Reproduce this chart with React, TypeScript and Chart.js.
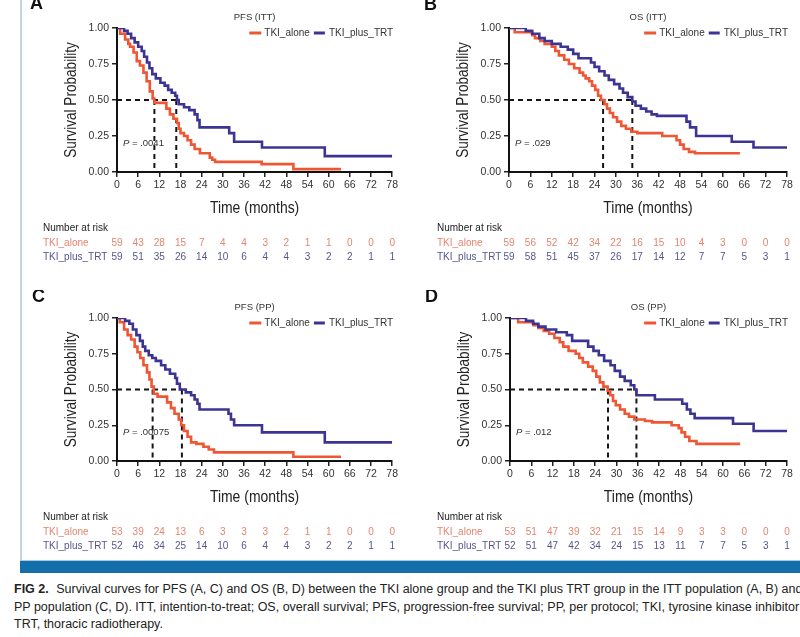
import React, { useEffect, useRef } from "react";
import { Chart, registerables } from "chart.js";
Chart.register(...registerables);

// ---------- data ----------
const xTicks = [0, 6, 12, 18, 24, 30, 36, 42, 48, 54, 60, 66, 72, 78];
const yTicks = [0, 0.25, 0.5, 0.75, 1];
const groupLabels = ["TKI_alone", "TKI_plus_TRT"];
const panelLetters = ["A", "B", "C", "D"];
const panelTitles = ["PFS (ITT)", "OS (ITT)", "PFS (PP)", "OS (PP)"];
const pValues = [".0041", ".029", ".00075", ".012"];

// [time (months), survival probability]
const pfsIttAlone = [[0,1],[0.9,0.96],[2.3,0.92],[3.2,0.89],[3.7,0.87],[4.7,0.83],[5.6,0.77],[6.5,0.74],[7.5,0.69],[8.4,0.63],[9.3,0.56],[10.1,0.51],[10.6,0.48],[14,0.44],[15,0.4],[16,0.37],[17,0.34],[17.5,0.3],[18,0.27],[19,0.25],[20,0.22],[21,0.19],[22,0.16],[23.5,0.13],[26.3,0.1],[27,0.085],[27.8,0.07],[41,0.055],[50,0.02],[63.5,0.02]];
const pfsIttPlus = [[0,1],[2,0.98],[3,0.96],[4,0.93],[5,0.9],[6,0.87],[7,0.84],[7.7,0.8],[8.5,0.76],[9.2,0.72],[10,0.68],[11,0.65],[12.3,0.62],[13.5,0.6],[14.5,0.57],[15.5,0.55],[16.5,0.53],[17,0.5],[17.5,0.47],[19,0.45],[20.5,0.43],[22,0.4],[22.8,0.36],[23.4,0.31],[31.8,0.27],[33.2,0.21],[41.1,0.17],[58.9,0.11],[78,0.11]];
const osIttAlone = [[0,1],[1.6,0.97],[6.5,0.95],[7.3,0.93],[8.8,0.91],[10,0.89],[12,0.87],[13,0.84],[14,0.81],[15.5,0.78],[16.8,0.75],[18.3,0.72],[19.8,0.69],[20.8,0.67],[21.5,0.65],[22.5,0.63],[23.3,0.6],[24.2,0.57],[25,0.53],[25.8,0.5],[26.8,0.47],[27.5,0.44],[28.3,0.41],[29.2,0.38],[30.3,0.35],[31.5,0.32],[32.8,0.3],[34.3,0.28],[36,0.27],[43,0.25],[47,0.22],[48,0.19],[49,0.16],[50.5,0.14],[52.2,0.13],[64.8,0.13]];
const osIttPlus = [[0,1],[4.7,0.98],[6.5,0.96],[8.5,0.93],[10,0.91],[12,0.89],[14.5,0.87],[16.5,0.85],[18,0.82],[19.5,0.79],[23,0.76],[24,0.73],[25.3,0.7],[26.8,0.67],[28,0.64],[29.5,0.61],[31,0.58],[32,0.55],[33.3,0.52],[34.6,0.49],[35.5,0.46],[37,0.44],[38.5,0.42],[40,0.4],[41.5,0.39],[49.8,0.35],[50.8,0.31],[52.5,0.25],[62.5,0.21],[68.6,0.17],[78,0.17]];
const pfsPpAlone = [[0,1],[0.8,0.97],[2,0.92],[3,0.88],[4,0.85],[5,0.8],[5.8,0.76],[6.6,0.72],[7.5,0.67],[8.5,0.62],[9.2,0.57],[9.8,0.52],[10.4,0.47],[11.5,0.45],[14.2,0.41],[15.3,0.37],[16.3,0.33],[17.5,0.29],[18.2,0.25],[19,0.21],[20,0.17],[21,0.13],[22.5,0.12],[24.5,0.1],[26,0.08],[27.5,0.06],[50,0.03],[63.5,0.03]];
const pfsPpPlus = [[0,1],[2.3,0.98],[3.5,0.96],[4.5,0.92],[5.5,0.88],[6.5,0.84],[7.3,0.8],[8,0.77],[9,0.74],[10,0.72],[11,0.7],[12.5,0.67],[13.7,0.64],[15,0.61],[16.5,0.58],[17,0.54],[17.8,0.5],[19.5,0.48],[21,0.46],[22,0.43],[22.8,0.4],[23.4,0.36],[31.6,0.33],[32.3,0.29],[33.2,0.25],[41.1,0.2],[58.9,0.13],[78,0.13]];
const osPpAlone = [[0,1],[2.3,0.97],[6.6,0.95],[8,0.93],[9.5,0.91],[11,0.89],[12.5,0.86],[14,0.83],[15,0.8],[16.5,0.77],[18.5,0.75],[19.5,0.72],[20.5,0.69],[22,0.66],[23.3,0.63],[24.3,0.59],[25.3,0.55],[26.3,0.52],[27.5,0.49],[28.2,0.46],[29,0.42],[29.8,0.39],[31,0.36],[32.3,0.33],[33.5,0.31],[35,0.29],[38,0.28],[40,0.27],[45.5,0.25],[47.5,0.23],[48.3,0.2],[49.3,0.17],[50.5,0.14],[52.5,0.12],[64.8,0.12]];
const osPpPlus = [[0,1],[4.5,0.98],[6.5,0.96],[8,0.94],[10,0.92],[13,0.9],[16,0.88],[17.5,0.84],[22,0.8],[23.5,0.77],[25,0.74],[26.5,0.7],[28.3,0.67],[29.5,0.63],[31,0.59],[32.3,0.56],[34,0.53],[35,0.5],[35.6,0.46],[40.8,0.43],[48.5,0.4],[49.8,0.36],[50.8,0.33],[52,0.3],[62.8,0.26],[68.6,0.21],[78,0.21]];

// median survival times (dashed guides)
const mediansA = [10.6, 16.8];
const mediansB = [26.4, 34.6];
const mediansC = [10.1, 18.4];
const mediansD = [27.6, 35.6];

// number at risk, at each x tick
const riskAloneA = [59, 43, 28, 15, 7, 4, 4, 3, 2, 1, 1, 0, 0, 0];
const riskPlusA = [59, 51, 35, 26, 14, 10, 6, 4, 4, 3, 2, 2, 1, 1];
const riskAloneB = [59, 56, 52, 42, 34, 22, 16, 15, 10, 4, 3, 0, 0, 0];
const riskPlusB = [59, 58, 51, 45, 37, 26, 17, 14, 12, 7, 7, 5, 3, 1];
const riskAloneC = [53, 39, 24, 13, 6, 3, 3, 3, 2, 1, 1, 0, 0, 0];
const riskPlusC = [52, 46, 34, 25, 14, 10, 6, 4, 4, 3, 2, 2, 1, 1];
const riskAloneD = [53, 51, 47, 39, 32, 21, 15, 14, 9, 3, 3, 0, 0, 0];
const riskPlusD = [52, 51, 47, 42, 34, 24, 15, 13, 11, 7, 7, 5, 3, 1];

// ---------- style ----------
const RED = "#EE5634";
const BLUE = "#3C3493";
const RED_TXT = "#E58470";
const BLUE_TXT = "#56568F";
const FONT = '"Liberation Sans", Arial, sans-serif';

const panels = [
  { left: 0, top: 0, w: 400, h: 290, yW: 117, xH: 118, padR: 6, letterX: 30, letterY: 9, labelX: 43,
    alone: pfsIttAlone, plus: pfsIttPlus, medians: mediansA, riskAlone: riskAloneA, riskPlus: riskPlusA },
  { left: 400, top: 0, w: 400, h: 290, yW: 109, xH: 118, padR: 13, letterX: 24, letterY: 10, labelX: 37,
    alone: osIttAlone, plus: osIttPlus, medians: mediansB, riskAlone: riskAloneB, riskPlus: riskPlusB },
  { left: 0, top: 290, w: 400, h: 271, yW: 117, xH: 100, padR: 6, letterX: 32, letterY: 12, labelX: 43,
    alone: pfsPpAlone, plus: pfsPpPlus, medians: mediansC, riskAlone: riskAloneC, riskPlus: riskPlusC },
  { left: 400, top: 290, w: 400, h: 271, yW: 110, xH: 100, padR: 13, letterX: 25, letterY: 12, labelX: 37,
    alone: osPpAlone, plus: osPpPlus, medians: mediansD, riskAlone: riskAloneD, riskPlus: riskPlusD },
];

const decor = {
  id: "kmDecor",
  beforeDatasetsDraw(chart: any, _a: any, o: any) {
    const { ctx, scales } = chart;
    const x = scales.x, y = scales.y;
    ctx.save();
    ctx.setLineDash([5, 4]);
    ctx.lineWidth = 2;
    ctx.strokeStyle = "#151515";
    const yh = y.getPixelForValue(0.5), y0 = y.getPixelForValue(0);
    const mMax = Math.max(...o.medians);
    ctx.beginPath();
    ctx.moveTo(x.getPixelForValue(0), yh);
    ctx.lineTo(x.getPixelForValue(mMax), yh);
    for (const m of o.medians) {
      const px = x.getPixelForValue(m);
      ctx.moveTo(px, yh);
      ctx.lineTo(px, y0);
    }
    ctx.stroke();
    ctx.restore();
  },
  afterDraw(chart: any, _a: any, o: any) {
    const { ctx, chartArea: ca, scales } = chart;
    const x = scales.x, y = scales.y;
    const cx = (ca.left + ca.right) / 2;
    ctx.save();
    ctx.textBaseline = "alphabetic";
    // panel letter
    ctx.fillStyle = "#111";
    ctx.font = `bold 18px ${FONT}`;
    ctx.textAlign = "left";
    ctx.fillText(o.letter, o.letterX, o.letterY);
    ctx.textBaseline = "middle";
    // title
    ctx.font = `9.5px ${FONT}`;
    ctx.fillStyle = "#333";
    ctx.textAlign = "center";
    ctx.fillText(o.title, cx, ca.top - 11);
    // legend (right aligned to plot area)
    ctx.font = `10px ${FONT}`;
    ctx.textAlign = "left";
    const ly = ca.top + 5;
    const wPlus = ctx.measureText(groupLabels[1]).width;
    const wAlone = ctx.measureText(groupLabels[0]).width;
    const tPlus = ca.right + 1 - wPlus;
    ctx.fillStyle = "#333";
    ctx.fillText(groupLabels[1], tPlus, ly);
    const tAlone = tPlus - 15 - 4 - wAlone;
    ctx.fillText(groupLabels[0], tAlone, ly);
    ctx.lineWidth = 3;
    ctx.strokeStyle = BLUE;
    ctx.beginPath(); ctx.moveTo(tPlus - 15, ly); ctx.lineTo(tPlus - 4, ly); ctx.stroke();
    ctx.strokeStyle = RED;
    ctx.beginPath(); ctx.moveTo(tAlone - 15, ly); ctx.lineTo(tAlone - 3, ly); ctx.stroke();
    // p value
    const py = y.getPixelForValue(0.2);
    const px = ca.left + 6;
    ctx.fillStyle = "#333";
    ctx.font = `italic 9.5px ${FONT}`;
    ctx.fillText("P", px, py);
    const wp = ctx.measureText("P").width;
    ctx.font = `9.5px ${FONT}`;
    ctx.fillText(" = " + o.p, px + wp, py);
    // axis titles (condensed look)
    ctx.fillStyle = "#222";
    ctx.font = `17px ${FONT}`;
    ctx.textAlign = "center";
    ctx.save();
    ctx.translate(cx, ca.bottom + 36);
    ctx.scale(0.82, 1);
    ctx.fillText("Time (months)", 0, 0);
    ctx.restore();
    ctx.save();
    ctx.translate(ca.left - 46, (ca.top + ca.bottom) / 2);
    ctx.rotate(-Math.PI / 2);
    ctx.scale(0.8, 1);
    ctx.fillText("Survival Probability", 0, 0);
    ctx.restore();
    // risk table
    const r0 = ca.bottom + 56;
    ctx.textAlign = "left";
    ctx.font = `10px ${FONT}`;
    ctx.fillStyle = "#222";
    ctx.fillText("Number at risk", o.labelX, r0);
    ctx.fillStyle = RED_TXT;
    ctx.fillText(groupLabels[0], o.labelX, r0 + 15);
    ctx.fillStyle = BLUE_TXT;
    ctx.fillText(groupLabels[1], o.labelX, r0 + 29);
    ctx.textAlign = "center";
    xTicks.forEach((t, i) => {
      const xp = x.getPixelForValue(t);
      ctx.fillStyle = RED_TXT;
      ctx.fillText(String(o.riskAlone[i]), xp, r0 + 15);
      ctx.fillStyle = BLUE_TXT;
      ctx.fillText(String(o.riskPlus[i]), xp, r0 + 29);
    });
    ctx.restore();
  },
};

function Panel({ idx }: { idx: number }) {
  const ref = useRef<HTMLCanvasElement>(null);
  const p = panels[idx];
  useEffect(() => {
    if (!ref.current) return;
    const toPts = (arr: number[][]) => arr.map(([t, s]) => ({ x: t, y: s }));
    const chart = new Chart(ref.current, {
      type: "line",
      data: {
        datasets: [
          { label: groupLabels[1], data: toPts(p.plus), borderColor: BLUE, borderWidth: 2.6, stepped: true, pointRadius: 0, fill: false },
          { label: groupLabels[0], data: toPts(p.alone), borderColor: RED, borderWidth: 2.6, stepped: true, pointRadius: 0, fill: false },
        ],
      },
      options: {
        responsive: false,
        animation: false,
        events: [],
        layout: { padding: { left: 0, top: 28, right: p.padR, bottom: 0 } },
        plugins: {
          legend: { display: false },
          title: { display: false },
          tooltip: { enabled: false },
          kmDecor: {
            letter: panelLetters[idx], title: panelTitles[idx], p: pValues[idx],
            medians: p.medians, riskAlone: p.riskAlone, riskPlus: p.riskPlus,
            letterX: p.letterX, letterY: p.letterY, labelX: p.labelX,
          },
        } as any,
        scales: {
          x: {
            type: "linear", min: 0, max: 78,
            afterBuildTicks: (s: any) => { s.ticks = xTicks.map((v) => ({ value: v })); },
            afterFit: (s: any) => { s.height = p.xH; },
            ticks: { color: "#333", font: { size: 10.5, family: FONT }, padding: 2, maxRotation: 0, autoSkip: false, callback: (v: any) => String(v) },
            grid: { display: true, drawOnChartArea: false, drawTicks: true, tickLength: 5, color: "#222", lineWidth: 1.5 },
            border: { display: true, color: "#111", width: 2 },
          },
          y: {
            type: "linear", min: 0, max: 1,
            afterBuildTicks: (s: any) => { s.ticks = yTicks.map((v) => ({ value: v })); },
            afterFit: (s: any) => { s.width = p.yW; },
            ticks: { color: "#333", font: { size: 10.5, family: FONT }, padding: 3, callback: (v: any) => Number(v).toFixed(2) },
            grid: { display: true, drawOnChartArea: false, drawTicks: true, tickLength: 5, color: "#222", lineWidth: 1.5 },
            border: { display: true, color: "#111", width: 2 },
          },
        },
      },
      plugins: [decor],
    } as any);
    return () => chart.destroy();
  }, [idx]);
  return (
    <canvas ref={ref} width={p.w} height={p.h}
      style={{ position: "absolute", left: p.left, top: p.top, width: p.w, height: p.h, display: "block" }} />
  );
}

export default function App() {
  return (
    <div style={{ position: "absolute", left: 0, top: 0, width: 800, height: 637, background: "#fff", overflow: "hidden", fontFamily: FONT }}>
      <div style={{ position: "absolute", left: 20, top: 0, width: 2, height: 561, background: "#C2D6E2" }} />
      <div style={{ position: "absolute", left: 20, top: 560, width: 780, height: 1, background: "#A9C8DC" }} />
      <div style={{ position: "absolute", left: 20, top: 561, width: 780, height: 12, background: "#136FAC" }} />
      {[0, 1, 2, 3].map((i) => <Panel key={i} idx={i} />)}
      <div style={{ position: "absolute", left: 14, top: 581, fontSize: 12.5, lineHeight: "17.5px", color: "#222", whiteSpace: "pre" }}>
        <div><b>FIG 2.</b>{" "}<span style={{ marginLeft: 4 }}>Survival curves for PFS (A, C) and OS (B, D) between the TKI alone group and the TKI plus TRT group in the ITT population (A, B) and the</span></div>
        <div>PP population (C, D). ITT, intention-to-treat; OS, overall survival; PFS, progression-free survival; PP, per protocol; TKI, tyrosine kinase inhibitor;</div>
        <div>TRT, thoracic radiotherapy.</div>
      </div>
    </div>
  );
}
